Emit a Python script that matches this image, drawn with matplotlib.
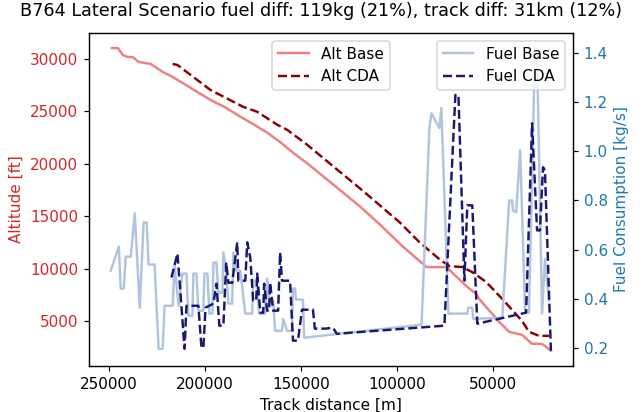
import matplotlib
matplotlib.use("Agg")
import matplotlib.pyplot as plt

# altitude profiles [track distance m, altitude ft]
alt_base_dist = [248400, 245300, 242700, 240200, 237600, 234500, 228200, 222000, 216800,
                 207000, 197200, 189000, 181600, 174000, 167600, 161000, 154200, 145000,
                 136500, 128000, 119400, 109100, 97200, 84700, 74400, 64000, 58800, 57300,
                 46900, 41700, 35000, 29800, 24600, 20000]
alt_base = [31040, 31040, 30380, 30190, 30190, 29720, 29530, 28770, 28290,
            27200, 26110, 25350, 24500, 23700, 22980, 22100, 21080, 19800,
            18520, 17250, 15960, 14250, 12160, 10170, 10170, 8360, 7600, 7130,
            4950, 4000, 3710, 2860, 2860, 2200]

alt_cda_dist = [216800, 214300, 197200, 180100, 172800, 162400, 157300, 146900, 116800,
                98700, 88400, 78000, 72800, 66100, 60900, 53600, 45300, 35000, 31400,
                26200, 21000]
alt_cda = [29530, 29430, 27060, 25440, 24970, 23740, 23260, 21840, 17280,
           14440, 12540, 10920, 10260, 10170, 9690, 8740, 7130, 5040, 4000,
           3620, 3620]

# fuel flow [track distance m, kg/s]
fuel_base_dist = [249000, 244800, 243800, 242200, 241200, 238600, 236500, 233900, 231900,
                  230300, 229300, 226200, 224100, 222000, 221000, 216800, 215800, 213700,
                  211700, 209600, 208600, 206500, 206000, 204400, 203400, 200800, 200300,
                  198700, 197700, 196100, 195600, 194000, 193000, 190900, 190400, 188900,
                  187800, 185800, 185200, 183700, 181600, 179000, 175400, 174900, 173300,
                  171800, 168700, 167600, 166600, 164500, 163500, 159900, 159300, 157300,
                  154700, 154200, 153100, 152600, 149000, 148400, 87300, 83200, 82100,
                  78000, 77000, 73300, 63500, 63000, 60900, 60400, 45300, 41700, 40200,
                  39700, 38100, 36000, 33400, 31400, 28300, 27200, 24600, 23100, 21000]
fuel_base = [0.514, 0.612, 0.441, 0.441, 0.571, 0.571, 0.747, 0.363, 0.710,
             0.710, 0.539, 0.539, 0.196, 0.196, 0.371, 0.371, 0.535, 0.371,
             0.502, 0.502, 0.331, 0.331, 0.502, 0.502, 0.351, 0.351, 0.502,
             0.502, 0.339, 0.339, 0.547, 0.547, 0.425, 0.425, 0.588, 0.514,
             0.380, 0.380, 0.588, 0.514, 0.514, 0.339, 0.339, 0.473, 0.473,
             0.339, 0.339, 0.482, 0.392, 0.392, 0.269, 0.269, 0.318, 0.269,
             0.269, 0.441, 0.441, 0.396, 0.396, 0.241, 0.294, 1.098, 1.155,
             1.094, 1.176, 0.339, 0.339, 0.363, 0.363, 0.318, 0.322, 0.800, 0.800,
             0.759, 0.751, 1.004, 0.343, 0.343, 1.42, 1.40, 0.339, 0.560, 0.392]

fuel_cda_dist = [217400, 214300, 213200, 210600, 209600, 203400, 201800, 200800, 199700,
                 195600, 194000, 192500, 190400, 188900, 187800, 185800, 183200, 182600,
                 179000, 178000, 176400, 174900, 173300, 172800, 171200, 169700, 169200,
                 167600, 166600, 166100, 164500, 161900, 160900, 159900, 155700, 154200,
                 151600, 149500, 143800, 142800, 137100, 133400, 131400, 75400, 69700,
                 68100, 65000, 63500, 60900, 58300, 32900, 29800, 27200, 25700, 24100,
                 23100, 20000]
fuel_cda = [0.486, 0.584, 0.473, 0.196, 0.371, 0.371, 0.200, 0.200, 0.363,
            0.380, 0.461, 0.290, 0.290, 0.547, 0.465, 0.465, 0.629, 0.473,
            0.473, 0.629, 0.567, 0.392, 0.392, 0.502, 0.343, 0.343, 0.461,
            0.351, 0.351, 0.465, 0.351, 0.351, 0.588, 0.473, 0.473, 0.229,
            0.229, 0.355, 0.355, 0.278, 0.278, 0.282, 0.257, 0.290, 1.229,
            1.229, 0.473, 0.780, 0.780, 0.298, 0.343, 1.114, 0.678, 0.678, 0.935,
            0.922, 0.188]

x_ticks = [250000, 200000, 150000, 100000, 50000]

fig, ax1 = plt.subplots(figsize=(643 / 110, 412 / 110), dpi=110)
ax1.plot(alt_base_dist, alt_base, color='lightcoral', lw=1.6, label='Alt Base')
ax1.plot(alt_cda_dist, alt_cda, color='darkred', lw=1.6, ls='--', label='Alt CDA')
ax1.set_xlabel('Track distance [m]')
ax1.set_ylabel('Altitude [ft]', color='tab:red')
ax1.tick_params(axis='y', labelcolor='tab:red')
ax1.set_xticks(x_ticks)
ax1.invert_xaxis()
ax1.legend(loc='upper center')

ax2 = ax1.twinx()
ax2.plot(fuel_base_dist, fuel_base, color='lightsteelblue', lw=1.6, label='Fuel Base')
ax2.plot(fuel_cda_dist, fuel_cda, color='midnightblue', lw=1.6, ls='--', label='Fuel CDA')
ax2.set_ylabel('Fuel Consumption [kg/s]', color='tab:blue')
ax2.tick_params(axis='y', labelcolor='tab:blue')
ax2.legend(loc='upper right')

fig.suptitle('B764 Lateral Scenario fuel diff: 119kg (21%), track diff: 31km (12%)',
             fontsize=11.5, y=0.995)
fig.subplots_adjust(left=0.138, right=0.891, top=0.920, bottom=0.112)
fig.savefig('out.png')
